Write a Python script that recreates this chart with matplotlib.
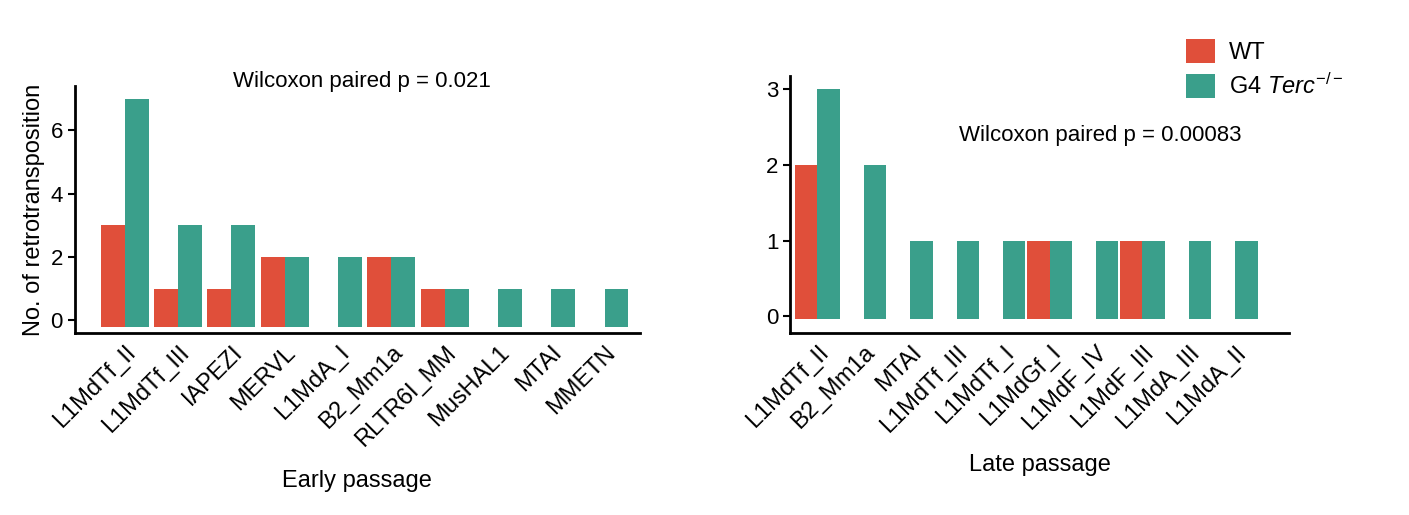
import numpy as np
from matplotlib import pyplot as plt

plt.rcParams['font.family'] = 'Liberation Sans'
plt.rcParams['mathtext.fontset'] = 'custom'
plt.rcParams['mathtext.it'] = 'Liberation Sans:italic'
plt.rcParams['mathtext.rm'] = 'Liberation Sans'

early_names = ['L1MdTf_II', 'L1MdTf_III', 'IAPEZI', 'MERVL', 'L1MdA_I', 'B2_Mm1a',
               'RLTR6I_MM', 'MusHAL1', 'MTAI', 'MMETN']
early_wt = [3, 1, 1, 2, 0, 2, 1, 0, 0, 0]
early_g4 = [7, 3, 3, 2, 2, 2, 1, 1, 1, 1]

late_names = ['L1MdTf_II', 'B2_Mm1a', 'MTAI', 'L1MdTf_III', 'L1MdTf_I', 'L1MdGf_I',
              'L1MdF_IV', 'L1MdF_III', 'L1MdA_III', 'L1MdA_II']
late_wt = [2, 0, 0, 0, 0, 1, 0, 1, 0, 0]
late_g4 = [3, 2, 1, 1, 1, 1, 1, 1, 1, 1]

RED = '#E04F3A'
TEAL = '#3A9F8B'

fig = plt.figure(figsize=(14.09, 5.15), dpi=100)
ax_e = fig.add_axes([0.053, 0.353, 0.401, 0.48])
ax_l = fig.add_axes([0.561, 0.353, 0.354, 0.50])


def draw(ax, names, wt, g4, base, width):
    x = np.arange(len(names))
    wt = np.asarray(wt, float)
    g4 = np.asarray(g4, float)
    ax.bar(x[wt > 0] - width / 2, wt[wt > 0] - base, width, bottom=base, color=RED,
           label='WT')
    ax.bar(x + width / 2, g4 - base, width, bottom=base, color=TEAL,
           label='G4 $\\it{Terc}^{-/-}$')
    ax.set_xticks(x)
    ax.set_xticklabels(names, rotation=45, ha='right', rotation_mode='anchor', fontsize=17)
    ax.tick_params(axis='y', labelsize=16, width=1.5, length=5)
    ax.tick_params(axis='x', length=0, pad=6)
    for s in ['top', 'right']:
        ax.spines[s].set_visible(False)
    for s in ['left', 'bottom']:
        ax.spines[s].set_linewidth(2)


draw(ax_e, early_names, early_wt, early_g4, -0.2, 0.45)
ax_e.set_xlim(-0.94, 9.66)
ax_e.set_ylim(-0.41, 7.4)
ax_e.set_yticks([0, 2, 4, 6])
ax_e.set_ylabel('No. of retrotransposition', fontsize=17)
ax_e.set_xlabel('Early passage', fontsize=17, labelpad=14)

draw(ax_l, late_names, late_wt, late_g4, -0.03, 0.48)
ax_l.set_xlim(-0.58, 10.16)
ax_l.set_ylim(-0.22, 3.17)
ax_l.set_yticks([0, 1, 2, 3])
ax_l.set_xlabel('Late passage', fontsize=17, labelpad=12)

fig.text(362 / 1409, 1 - 82 / 515, 'Wilcoxon paired p = 0.021', fontsize=16,
         ha='center', va='center')
fig.text(1100 / 1409, 1 - 135 / 515, 'Wilcoxon paired p = 0.00083', fontsize=16,
         ha='center', va='center')

handles, labels = ax_l.get_legend_handles_labels()
fig.legend(handles, labels, loc='upper left', bbox_to_anchor=(1165 / 1409, 1 - 18 / 515),
           frameon=False, fontsize=17, handlelength=1.2, handleheight=1.2,
           handletextpad=0.6, labelspacing=0.4)

plt.savefig('out.png', dpi=100)
